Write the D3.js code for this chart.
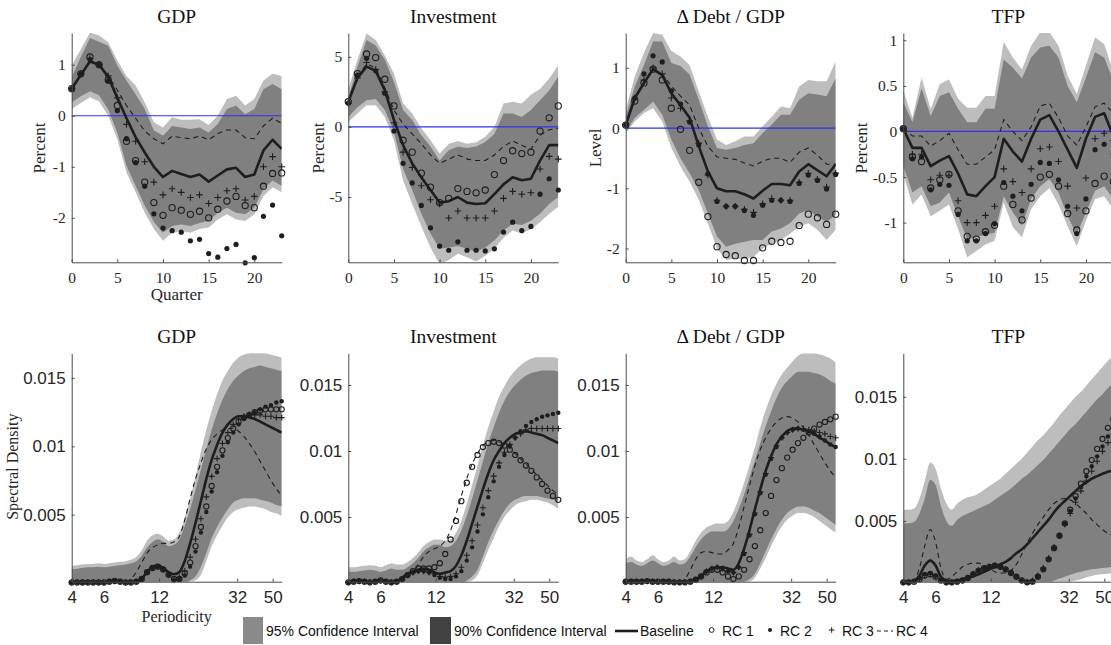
<!DOCTYPE html>
<html>
<head>
<meta charset="utf-8">
<script src="https://cdn.jsdelivr.net/npm/d3@7"></script>
<style>
  body { margin: 0; background: #fff; }
  svg { display: block; }
</style>
</head>
<body>
<svg id="chart" width="1111" height="645"></svg>
<script>
// ---- impulse responses, quarters 0..23 ----
var quarters = [0,1,2,3,4,5,6,7,8,9,10,11,12,13,14,15,16,17,18,19,20,21,22,23];

var gdpHi95 = [0.98,1.3,1.63,1.57,1.44,1.08,0.78,0.59,0.26,-0.13,-0.23,-0.03,-0.08,-0.08,-0.07,-0.18,0.0,0.33,0.39,0.2,0.33,0.69,0.82,0.78];
var gdpHi90 = [0.75,1.15,1.52,1.45,1.37,0.98,0.69,0.42,0.13,-0.29,-0.39,-0.2,-0.23,-0.26,-0.23,-0.33,-0.16,0.13,0.2,0.03,0.13,0.52,0.62,0.52];
var gdpLo90 = [0.26,0.38,0.48,0.4,0.12,-0.33,-0.98,-1.37,-1.76,-2.08,-2.29,-2.16,-2.13,-2.16,-2.1,-2.06,-1.9,-1.8,-1.9,-1.93,-1.8,-1.44,-1.27,-1.37];
var gdpLo95 = [0.13,0.25,0.36,0.28,0.0,-0.46,-1.11,-1.5,-1.9,-2.22,-2.45,-2.29,-2.26,-2.29,-2.22,-2.19,-2.03,-1.93,-2.03,-2.06,-1.93,-1.57,-1.4,-1.5];
var gdpBase = [0.53,0.8,1.06,1.0,0.76,0.35,-0.05,-0.42,-0.72,-1.0,-1.2,-1.08,-1.14,-1.2,-1.15,-1.29,-1.17,-1.05,-1.02,-1.2,-1.15,-0.68,-0.47,-0.65];
var gdpRC1 = [0.53,0.82,1.15,1.0,0.7,0.2,-0.5,-0.88,-1.3,-1.7,-1.95,-1.8,-1.85,-1.93,-1.87,-2.0,-1.83,-1.67,-1.58,-1.76,-1.8,-1.38,-1.13,-1.12];
var gdpRC2 = [0.53,0.82,1.1,1.0,0.68,0.1,-0.45,-0.92,-1.38,-1.92,-2.2,-2.25,-2.28,-2.45,-2.42,-2.7,-2.77,-2.6,-2.52,-2.88,-2.78,-1.97,-1.75,-2.35];
var gdpRC3 = [0.53,0.82,1.12,1.0,0.78,0.35,-0.17,-0.5,-0.9,-1.3,-1.55,-1.43,-1.5,-1.6,-1.55,-1.72,-1.6,-1.47,-1.43,-1.65,-1.58,-1.0,-0.8,-1.0];
var gdpRC4 = [0.53,0.82,1.08,1.0,0.78,0.5,0.2,-0.05,-0.3,-0.45,-0.55,-0.4,-0.43,-0.45,-0.4,-0.47,-0.35,-0.28,-0.28,-0.43,-0.45,-0.2,-0.05,-0.15];

var invHi95 = [2.7,4.8,6.67,6.2,5.1,3.8,1.67,0.95,-0.1,-0.95,-1.9,-1.2,-1.0,-1.2,-1.1,-0.7,0.0,1.67,1.8,1.67,2.3,2.7,3.45,4.4];
var invHi90 = [2.1,4.3,6.2,5.8,4.8,3.2,1.2,0.5,-0.6,-1.4,-2.4,-1.67,-1.4,-1.5,-1.4,-1.07,-0.5,0.95,0.95,0.7,1.2,1.9,2.6,3.6];
var invLo90 = [0.7,1.4,1.9,2.0,1.2,-0.35,-3.0,-4.5,-6.2,-7.6,-8.7,-8.6,-8.5,-8.7,-8.9,-8.6,-8.1,-7.4,-6.9,-7.0,-6.7,-6.2,-5.5,-5.0];
var invLo95 = [0.35,0.95,1.55,1.55,0.7,-0.95,-3.8,-5.5,-7.1,-8.6,-9.8,-9.5,-9.05,-9.3,-9.6,-9.2,-8.7,-7.9,-7.4,-7.6,-7.3,-6.8,-6.2,-5.7];
var invBase = [1.8,3.5,4.3,4.0,2.6,0.5,-1.3,-2.6,-3.6,-4.5,-5.4,-5.3,-5.0,-5.4,-5.5,-5.45,-4.8,-4.1,-3.6,-3.8,-3.7,-2.4,-1.3,-1.3];
var invRC1 = [1.8,3.8,5.2,4.95,3.4,1.5,-0.95,-1.8,-3.3,-4.3,-5.4,-5.1,-4.4,-4.6,-4.7,-4.5,-3.4,-2.4,-1.7,-1.9,-1.8,-0.3,0.65,1.5];
var invRC2 = [1.7,3.7,4.9,4.0,2.4,-0.3,-2.6,-4.0,-5.6,-7.2,-8.5,-8.8,-8.2,-8.8,-8.8,-8.85,-8.7,-7.5,-6.8,-7.4,-7.1,-4.8,-3.7,-4.5];
var invRC3 = [1.7,3.5,4.6,4.1,2.5,0.3,-1.8,-2.9,-4.2,-5.2,-5.5,-6.5,-6.0,-6.5,-6.5,-6.5,-6.0,-5.1,-4.6,-4.8,-4.7,-3.0,-2.1,-2.3];
var invRC4 = [1.8,3.6,4.5,4.2,2.8,1.2,0.2,-0.5,-1.2,-2.0,-2.6,-2.3,-2.0,-2.3,-2.4,-2.4,-2.0,-1.4,-1.0,-1.3,-1.6,-0.6,-0.2,-0.1];

var debtHi95 = [0.3,0.86,1.25,1.58,1.55,1.28,1.19,1.05,0.61,0.19,-0.19,-0.28,-0.22,-0.14,-0.14,0.03,0.19,0.36,0.33,0.69,0.8,0.78,0.78,1.11];
var debtHi90 = [0.19,0.69,1.05,1.44,1.44,1.08,1.03,0.89,0.47,0.03,-0.33,-0.36,-0.33,-0.28,-0.25,-0.08,0.06,0.22,0.22,0.47,0.58,0.56,0.53,0.83];
var debtLo90 = [-0.06,0.17,0.3,0.44,0.22,-0.19,-0.5,-0.75,-1.03,-1.42,-1.8,-1.97,-1.92,-1.89,-1.86,-1.86,-1.72,-1.67,-1.58,-1.42,-1.36,-1.47,-1.56,-1.44];
var debtLo95 = [-0.08,0.11,0.25,0.33,0.11,-0.33,-0.64,-0.89,-1.19,-1.58,-2.0,-2.19,-2.17,-2.17,-2.14,-2.0,-1.92,-1.86,-1.75,-1.64,-1.58,-1.69,-1.86,-1.69];
var debtBase = [0.05,0.5,0.75,0.98,0.88,0.58,0.38,0.17,-0.3,-0.72,-1.0,-1.05,-1.05,-1.1,-1.17,-1.04,-0.93,-0.93,-0.95,-0.72,-0.6,-0.7,-0.8,-0.6];
var debtRC1 = [0.05,0.45,0.75,0.98,0.8,0.33,-0.02,-0.37,-0.9,-1.47,-1.97,-2.1,-2.12,-2.2,-2.2,-1.99,-1.88,-1.9,-1.88,-1.62,-1.43,-1.49,-1.6,-1.43];
var debtRC2 = [0.05,0.5,0.9,1.2,1.1,0.62,0.4,0.1,-0.28,-0.76,-1.22,-1.3,-1.3,-1.37,-1.45,-1.28,-1.2,-1.2,-1.22,-0.92,-0.78,-0.87,-1.01,-0.77];
var debtRC3 = [0.05,0.5,0.8,1.0,0.9,0.5,0.33,0.12,-0.25,-0.78,-1.2,-1.3,-1.3,-1.35,-1.4,-1.26,-1.17,-1.2,-1.2,-0.9,-0.75,-0.85,-0.98,-0.75];
var debtRC4 = [0.05,0.5,0.77,0.98,0.9,0.7,0.53,0.38,0.0,-0.3,-0.48,-0.5,-0.52,-0.58,-0.63,-0.55,-0.5,-0.5,-0.57,-0.4,-0.33,-0.45,-0.6,-0.6];

var tfpHi95 = [0.45,0.15,0.59,0.25,0.52,0.57,0.36,0.26,0.26,0.39,0.39,0.98,0.81,0.68,0.94,1.09,1.09,0.94,0.61,0.41,0.72,1.03,0.96,0.65];
var tfpHi90 = [0.32,0.1,0.47,0.17,0.39,0.43,0.25,0.1,0.1,0.25,0.25,0.79,0.7,0.58,0.81,0.92,0.94,0.81,0.5,0.32,0.59,0.87,0.81,0.56];
var tfpLo90 = [-0.38,-0.67,-0.6,-0.82,-0.78,-0.67,-0.93,-1.18,-1.16,-1.13,-1.11,-0.71,-0.89,-1.03,-0.74,-0.6,-0.52,-0.67,-0.93,-1.13,-0.89,-0.65,-0.6,-0.74];
var tfpLo95 = [-0.47,-0.8,-0.69,-0.93,-0.87,-0.8,-1.07,-1.38,-1.31,-1.24,-1.2,-0.78,-1.05,-1.16,-0.85,-0.71,-0.62,-0.8,-1.04,-1.26,-0.98,-0.74,-0.71,-0.85];
var tfpBase = [0.03,-0.18,-0.18,-0.38,-0.32,-0.27,-0.46,-0.69,-0.71,-0.6,-0.5,-0.08,-0.22,-0.33,-0.08,0.13,0.18,0.0,-0.2,-0.4,-0.08,0.16,0.2,-0.05];
var tfpRC1 = [0.03,-0.28,-0.33,-0.62,-0.53,-0.47,-0.87,-1.15,-1.18,-1.1,-1.03,-0.6,-0.8,-0.97,-0.73,-0.5,-0.47,-0.6,-0.9,-1.08,-0.87,-0.57,-0.49,-0.55];
var tfpRC2 = [0.03,-0.3,-0.28,-0.64,-0.58,-0.59,-0.91,-1.2,-1.2,-1.12,-1.01,-0.56,-0.71,-0.87,-0.58,-0.34,-0.35,-0.53,-0.82,-1.12,-0.74,-0.2,-0.14,-0.25];
var tfpRC3 = [0.03,-0.25,-0.25,-0.53,-0.48,-0.48,-0.76,-1.0,-1.0,-0.92,-0.82,-0.41,-0.55,-0.67,-0.41,-0.19,-0.17,-0.33,-0.6,-0.84,-0.51,-0.08,-0.02,-0.1];
var tfpRC4 = [0.03,-0.05,-0.05,-0.16,-0.1,-0.02,-0.2,-0.36,-0.36,-0.28,-0.2,0.13,0.0,-0.1,0.05,0.28,0.31,0.15,-0.05,-0.15,0.05,0.27,0.31,0.2];

// ---- spectral densities (values in thousandths), by periodicity ----
var periods = [4.00,4.28,4.58,4.90,5.24,5.61,6.00,6.42,6.87,7.35,7.87,8.42,9.01,9.64,10.31,11.04,11.81,12.63,13.52,14.47,15.48,16.56,17.72,18.96,20.29,21.71,23.23,24.86,26.60,28.46,30.45,32.58,34.86,37.30,39.92,42.71,45.70,48.90,52.33,56.00];

var gdpSpecHi95 = [1.25,1.3,1.35,1.4,1.4,1.45,1.4,1.45,1.5,1.55,1.6,1.7,1.9,2.4,3.1,3.5,3.6,3.4,3.1,3.2,3.7,4.8,6.2,7.8,9.6,11.2,12.6,13.8,14.8,15.5,16.1,16.5,16.7,16.8,16.9,16.9,16.8,16.7,16.6,16.5];
var gdpSpecHi90 = [1.0,1.05,1.1,1.15,1.15,1.2,1.15,1.2,1.25,1.3,1.35,1.45,1.6,2.0,2.6,3.0,3.2,3.0,2.7,2.8,3.2,4.2,5.4,6.8,8.3,9.8,11.2,12.4,13.4,14.2,14.8,15.2,15.5,15.7,15.8,15.9,15.8,15.7,15.6,15.5];
var gdpSpecLo90 = [0,0,0,0,0,0,0,0,0,0,0,0,0,0,0,0,0,0,0,0,0,0,0.2,0.5,1.2,2.2,3.3,4.1,4.8,5.4,5.9,6.1,6.2,6.2,6.2,6.1,6.0,5.9,5.7,5.6];
var gdpSpecLo95 = [0,0,0,0,0,0,0,0,0,0,0,0,0,0,0,0,0,0,0,0,0,0,0.1,0.2,0.6,1.6,2.7,3.5,4.2,4.8,5.2,5.4,5.5,5.6,5.6,5.5,5.4,5.2,5.1,4.9];
var gdpSpecBase = [0.05,0.05,0.05,0.05,0.05,0.05,0.05,0.1,0.15,0.1,0.05,0.05,0.1,0.3,0.8,1.2,1.3,1.1,0.8,0.65,0.8,1.6,2.9,4.4,6.0,7.6,9.0,10.1,11.0,11.6,12.0,12.2,12.2,12.1,12.0,11.8,11.6,11.4,11.2,11.0];
var gdpSpecRC1 = [0.05,0.05,0.05,0.05,0.05,0.05,0.05,0.1,0.15,0.1,0.05,0.05,0.1,0.3,0.8,1.1,1.2,1.0,0.6,0.3,0.3,0.7,1.5,2.7,4.1,5.6,7.1,8.5,9.7,10.6,11.3,11.8,12.1,12.3,12.5,12.6,12.7,12.7,12.7,12.7];
var gdpSpecRC2 = [0.05,0.05,0.05,0.05,0.05,0.05,0.05,0.1,0.15,0.1,0.05,0.05,0.1,0.3,0.8,1.1,1.2,1.0,0.6,0.2,0.25,0.55,1.2,2.3,3.7,5.2,6.7,8.1,9.3,10.3,11.0,11.6,12.0,12.3,12.5,12.7,12.9,13.0,13.2,13.3];
var gdpSpecRC3 = [0.05,0.05,0.05,0.05,0.05,0.05,0.05,0.1,0.15,0.1,0.05,0.05,0.1,0.3,0.8,1.1,1.2,1.0,0.6,0.3,0.4,0.9,1.9,3.2,4.7,6.3,7.8,9.1,10.2,11.0,11.6,12.0,12.2,12.3,12.3,12.3,12.2,12.2,12.1,12.1];
var gdpSpecRC4 = [0.05,0.05,0.05,0.05,0.05,0.05,0.05,0.1,0.1,0.05,0.1,0.3,0.8,1.5,2.2,2.6,2.8,2.9,2.9,3.0,3.4,4.6,6.2,7.6,8.8,9.8,10.5,10.9,11.2,11.3,11.3,11.1,10.7,10.2,9.6,8.9,8.2,7.5,6.9,6.4];

var invSpecHi95 = [1.2,1.2,1.25,1.3,1.35,1.3,1.2,1.35,1.5,1.4,1.4,1.6,1.9,2.3,2.8,3.1,3.3,3.3,3.2,3.3,3.8,4.7,6.0,7.4,8.9,10.4,11.8,13.0,14.1,14.9,15.6,16.1,16.5,16.8,17.0,17.1,17.1,17.1,17.1,17.0];
var invSpecHi90 = [0.85,0.85,0.9,0.95,1.0,0.95,0.85,0.95,1.1,1.0,1.0,1.2,1.5,1.9,2.4,2.7,2.9,2.9,2.7,2.8,3.2,4.0,5.1,6.4,7.8,9.2,10.6,11.8,12.9,13.8,14.5,15.0,15.4,15.7,15.9,16.0,16.1,16.1,16.1,16.0];
var invSpecLo90 = [0,0,0,0,0,0,0,0,0,0,0,0,0,0,0,0,0,0,0,0,0,0,0.2,0.5,1.0,2.0,3.1,4.0,4.8,5.5,6.0,6.3,6.5,6.6,6.6,6.6,6.5,6.4,6.3,6.2];
var invSpecLo95 = [0,0,0,0,0,0,0,0,0,0,0,0,0,0,0,0,0,0,0,0,0,0,0.1,0.2,0.6,1.5,2.5,3.4,4.3,5.0,5.5,5.9,6.1,6.2,6.3,6.3,6.2,6.1,5.9,5.6];
var invSpecBase = [0.05,0.1,0.15,0.1,0.05,0.1,0.2,0.1,0.05,0.1,0.4,0.7,0.9,1.0,1.1,1.0,0.8,0.7,0.8,0.9,1.3,2.1,3.2,4.5,5.8,7.1,8.3,9.3,10.0,10.6,11.0,11.3,11.4,11.5,11.4,11.3,11.2,11.0,10.8,10.6];
var invSpecRC1 = [0.05,0.1,0.15,0.1,0.05,0.1,0.2,0.1,0.05,0.1,0.3,0.6,0.9,1.1,1.1,1.1,1.2,1.5,2.2,3.3,4.7,6.2,7.6,8.8,9.7,10.3,10.6,10.7,10.6,10.4,10.1,9.7,9.3,8.9,8.5,8.0,7.5,7.0,6.6,6.3];
var invSpecRC2 = [0.05,0.1,0.15,0.1,0.05,0.1,0.2,0.1,0.05,0.1,0.3,0.6,0.8,0.9,0.9,0.8,0.6,0.4,0.3,0.3,0.5,0.9,1.7,2.7,3.9,5.2,6.5,7.7,8.8,9.7,10.4,11.0,11.5,11.9,12.2,12.4,12.6,12.7,12.8,12.9];
var invSpecRC3 = [0.05,0.1,0.15,0.1,0.05,0.1,0.2,0.1,0.05,0.1,0.3,0.6,0.8,0.9,0.9,0.8,0.7,0.5,0.45,0.5,0.7,1.2,2.1,3.2,4.4,5.7,7.0,8.1,9.1,9.9,10.5,11.0,11.3,11.6,11.7,11.7,11.7,11.7,11.7,11.7];
var invSpecRC4 = [0.05,0.1,0.15,0.1,0.05,0.1,0.2,0.1,0.05,0.15,0.4,0.6,0.8,1.4,2.0,2.4,2.6,2.8,3.2,4.0,5.2,6.6,7.9,9.0,9.8,10.4,10.7,10.8,10.7,10.5,10.2,9.8,9.4,9.0,8.6,8.2,7.8,7.4,7.0,6.7];

var debtSpecHi95 = [1.8,2.0,1.7,1.6,1.8,2.1,1.8,1.6,1.7,2.0,1.7,1.8,2.4,3.2,3.8,4.2,4.4,4.5,4.5,4.7,5.4,6.4,7.6,8.9,10.3,11.8,13.1,14.2,15.1,15.8,16.3,16.8,17.2,17.4,17.4,17.4,17.3,17.2,17.0,16.7];
var debtSpecHi90 = [1.5,1.6,1.4,1.3,1.5,1.7,1.5,1.3,1.4,1.6,1.4,1.5,2.0,2.7,3.3,3.7,3.9,3.9,3.9,4.1,4.7,5.6,6.7,8.0,9.3,10.6,11.9,13.0,14.0,14.8,15.3,15.7,16.0,16.0,16.0,15.9,15.8,15.6,15.3,15.1];
var debtSpecLo90 = [0,0,0,0,0,0,0,0,0,0,0,0,0,0,0,0,0,0,0,0,0,0,0.1,0.3,0.7,1.5,2.4,3.3,4.1,4.8,5.3,5.6,5.8,5.8,5.7,5.5,5.3,5.0,4.7,4.4];
var debtSpecLo95 = [0,0,0,0,0,0,0,0,0,0,0,0,0,0,0,0,0,0,0,0,0,0,0,0.1,0.4,1.1,1.9,2.8,3.6,4.3,4.8,5.1,5.3,5.3,5.2,5.0,4.7,4.4,4.1,3.8];
var debtSpecBase = [0.1,0.1,0.1,0.1,0.15,0.1,0.1,0.1,0.1,0.05,0.05,0.05,0.1,0.25,0.5,0.9,1.1,1.2,1.2,1.1,1.0,1.5,2.6,4.0,5.6,7.1,8.5,9.6,10.5,11.1,11.5,11.7,11.7,11.6,11.5,11.3,11.0,10.8,10.5,10.3];
var debtSpecRC1 = [0.1,0.1,0.1,0.1,0.15,0.1,0.1,0.1,0.1,0.05,0.05,0.05,0.1,0.25,0.5,0.8,1.0,1.0,0.8,0.5,0.3,0.5,1.0,1.8,2.8,4.0,5.3,6.6,7.8,8.7,9.5,10.1,10.6,11.0,11.4,11.7,12.0,12.2,12.4,12.6];
var debtSpecRC2 = [0.1,0.1,0.1,0.1,0.15,0.1,0.1,0.1,0.1,0.05,0.05,0.05,0.1,0.25,0.5,0.9,1.1,1.2,1.1,0.9,0.8,1.2,2.2,3.6,5.2,6.8,8.2,9.4,10.3,11.0,11.4,11.6,11.7,11.6,11.5,11.3,11.1,10.8,10.5,10.3];
var debtSpecRC3 = [0.1,0.1,0.1,0.1,0.15,0.1,0.1,0.1,0.1,0.05,0.05,0.05,0.1,0.25,0.5,0.9,1.1,1.2,1.1,0.9,0.8,1.2,2.3,3.7,5.3,6.9,8.3,9.5,10.4,11.0,11.4,11.6,11.7,11.7,11.6,11.5,11.4,11.3,11.1,11.0];
var debtSpecRC4 = [0.1,0.1,0.1,0.1,0.15,0.1,0.1,0.1,0.1,0.05,0.1,0.3,1.0,1.8,2.3,2.4,2.3,2.2,2.2,2.5,3.0,4.2,5.8,7.4,8.9,10.1,11.0,11.7,12.2,12.5,12.6,12.5,12.2,11.8,11.2,10.5,9.8,9.1,8.5,8.0];

var tfpSpecHi95 = [5.9,5.9,6.0,6.8,8.2,9.7,9.2,7.6,6.4,5.9,6.4,6.7,6.9,7.0,7.2,7.5,7.8,8.1,8.4,8.8,9.2,9.6,10.0,10.5,11.0,11.5,11.9,12.4,12.9,13.5,14.0,14.5,15.0,15.4,15.9,16.4,16.9,17.4,17.9,18.3];
var tfpSpecHi90 = [4.8,4.8,4.9,5.6,6.8,8.3,7.9,6.2,5.0,4.6,5.1,5.4,5.6,5.8,6.0,6.2,6.4,6.7,7.0,7.3,7.6,8.0,8.4,8.7,9.1,9.5,9.9,10.4,10.9,11.4,11.9,12.4,12.8,13.3,13.8,14.3,14.8,15.2,15.7,16.1];
var tfpSpecLo90 = [0,0,0,0,0,0,0,0,0,0,0,0,0,0,0,0,0,0,0,0,0,0,0,0,0,0,0,0,0.2,0.35,0.5,0.65,0.8,0.9,1.0,1.1,1.15,1.2,1.25,1.3];
var tfpSpecLo95 = [0,0,0,0,0,0,0,0,0,0,0,0,0,0,0,0,0,0,0,0,0,0,0,0,0,0,0,0,0,0,0,0.1,0.2,0.3,0.45,0.55,0.65,0.7,0.75,0.8];
var tfpSpecBase = [0.05,0.05,0.1,0.6,1.4,1.8,1.4,0.5,0.2,0.15,0.2,0.3,0.4,0.55,0.7,0.9,1.1,1.3,1.5,1.7,2.0,2.4,2.7,3.1,3.6,4.1,4.6,5.1,5.7,6.2,6.6,7.0,7.4,7.8,8.1,8.4,8.6,8.8,8.95,9.1];
var tfpSpecRC1 = [0.05,0.05,0.1,0.3,0.6,0.7,0.5,0.2,0.05,0.05,0.1,0.2,0.4,0.7,1.0,1.2,1.3,1.4,1.3,1.1,0.8,0.5,0.2,0.05,0.1,0.5,1.1,1.9,2.8,3.8,4.8,5.9,7.0,8.0,9.0,9.9,10.8,11.6,12.5,13.2];
var tfpSpecRC2 = [0.05,0.05,0.15,0.4,0.7,0.8,0.6,0.25,0.05,0.05,0.1,0.2,0.4,0.7,1.0,1.2,1.3,1.4,1.3,1.1,0.8,0.5,0.2,0.05,0.1,0.5,1.1,1.9,2.8,3.8,4.8,5.8,6.8,7.7,8.6,9.4,10.2,11.0,11.8,12.5];
var tfpSpecRC3 = [0.05,0.05,0.1,0.3,0.6,0.7,0.5,0.2,0.05,0.05,0.1,0.2,0.4,0.7,1.0,1.2,1.3,1.4,1.3,1.1,0.8,0.5,0.2,0.1,0.2,0.6,1.2,2.0,2.9,3.8,4.7,5.6,6.5,7.4,8.2,9.0,9.8,10.6,11.3,12.0];
var tfpSpecRC4 = [0.05,0.05,0.2,1.2,3.0,4.3,3.3,1.2,0.3,0.5,0.9,1.3,1.5,1.6,1.6,1.4,1.2,0.9,0.8,0.8,1.0,1.5,2.3,3.2,4.0,4.7,5.3,5.9,6.4,6.7,6.8,6.7,6.4,6.0,5.6,5.1,4.7,4.3,4.0,3.8];

var titles = ['GDP', 'Investment', '\u0394 Debt / GDP', 'TFP'];
var irfLabels = ['Percent', 'Percent', 'Level', 'Percent'];
var periodTicks = [4, 6, 12, 32, 50];
var legendLabels = ['95% Confidence Interval', '90% Confidence Interval', 'Baseline', 'RC 1', 'RC 2', 'RC 3', 'RC 4'];

// ---- panels built from the arrays ----
var topPanels = [
  {yDomain: [-2.87, 1.62], yTicks: [-2, -1, 0, 1], s: [gdpLo95, gdpHi95, gdpLo90, gdpHi90, gdpBase, gdpRC1, gdpRC2, gdpRC3, gdpRC4]},
  {yDomain: [-9.66, 6.7], yTicks: [-5, 0, 5], s: [invLo95, invHi95, invLo90, invHi90, invBase, invRC1, invRC2, invRC3, invRC4]},
  {yDomain: [-2.23, 1.58], yTicks: [-2, -1, 0, 1], s: [debtLo95, debtHi95, debtLo90, debtHi90, debtBase, debtRC1, debtRC2, debtRC3, debtRC4]},
  {yDomain: [-1.435, 1.08], yTicks: [-1, -0.5, 0, 0.5, 1], s: [tfpLo95, tfpHi95, tfpLo90, tfpHi90, tfpBase, tfpRC1, tfpRC2, tfpRC3, tfpRC4]}
];
var bottomPanels = [
  {yDomain: [0.1, 16.8], s: [gdpSpecLo95, gdpSpecHi95, gdpSpecLo90, gdpSpecHi90, gdpSpecBase, gdpSpecRC1, gdpSpecRC2, gdpSpecRC3, gdpSpecRC4]},
  {yDomain: [0.1, 17.4], s: [invSpecLo95, invSpecHi95, invSpecLo90, invSpecHi90, invSpecBase, invSpecRC1, invSpecRC2, invSpecRC3, invSpecRC4]},
  {yDomain: [0.1, 17.4], s: [debtSpecLo95, debtSpecHi95, debtSpecLo90, debtSpecHi90, debtSpecBase, debtSpecRC1, debtSpecRC2, debtSpecRC3, debtSpecRC4]},
  {yDomain: [0.1, 18.5], s: [tfpSpecLo95, tfpSpecHi95, tfpSpecLo90, tfpSpecHi90, tfpSpecBase, tfpSpecRC1, tfpSpecRC2, tfpSpecRC3, tfpSpecRC4]}
];

var svg = d3.select('#chart');
var defs = svg.append('defs');
svg.append('rect').attr('width', 1111).attr('height', 645).attr('fill', '#fff');

var serif = '"Liberation Serif", "Times New Roman", serif';
var sans = '"Liberation Sans", Arial, sans-serif';
var ink = '#1e1e1e', axisColor = '#4a4a4a';
var lightFill = '#bdbdbd', darkFill = '#808080';
var plotW = 210;
var panelLeft = [71.7, 348.3, 625.7, 903.3];

var rows = [
  {top: 33, bottom: 262.3, xs: quarters, titleY: 23, tickFont: serif, tickSize: 15.5, curve: d3.curveLinear,
   marks: {r: 3.1, dot: 2.6, plus: 3.3}, zero: true, xPad: 10,
   x: function(l) { return d3.scaleLinear().domain([0, 23]).range([l, l + plotW]); },
   xTicks: [0, 5, 10, 15, 20], fmt: function(d) { return String(d); }, panels: topPanels},
  {top: 353.3, bottom: 581.7, xs: periods, titleY: 343, tickFont: sans, tickSize: 17, curve: d3.curveMonotoneX,
   marks: {r: 2.6, dot: 2.2, plus: 3}, zero: false, xPad: 9,
   x: function(l) { return d3.scaleLog().domain([4, 56]).range([l, l + plotW]); },
   xTicks: periodTicks, fmt: function(d) { return String(d / 1000); }, panels: bottomPanels}
];

function plusPath(a) { return 'M' + (-a) + ',0H' + a + 'M0,' + (-a) + 'V' + a; }

rows.forEach(function(row, r) {
  row.panels.forEach(function(p, i) {
    var left = panelLeft[i];
    var x = row.x(left);
    var y = d3.scaleLinear().domain(p.yDomain).range([row.bottom, row.top]);
    var xs = row.xs;
    var g = svg.append('g');
    var clipId = 'clip' + r + '_' + i;
    defs.append('clipPath').attr('id', clipId).append('rect')
      .attr('x', left).attr('y', row.top).attr('width', plotW).attr('height', row.bottom - row.top);
    var inner = g.append('g').attr('clip-path', 'url(#' + clipId + ')');

    function band(lo, hi) {
      return d3.area().curve(row.curve)
        .x(function(d, k) { return x(xs[k]); })
        .y0(function(d, k) { return y(lo[k]); })
        .y1(function(d, k) { return y(hi[k]); })(lo);
    }
    inner.append('path').attr('d', band(p.s[0], p.s[1])).attr('fill', lightFill);
    inner.append('path').attr('d', band(p.s[2], p.s[3])).attr('fill', darkFill);

    if (row.zero) {
      inner.append('line').attr('x1', left).attr('x2', left + plotW)
        .attr('y1', y(0)).attr('y2', y(0)).attr('stroke', '#3030f0').attr('stroke-width', 1.2);
    }

    var line = d3.line().curve(row.curve)
      .x(function(d, k) { return x(xs[k]); })
      .y(function(d) { return y(d); });
    inner.append('path').attr('d', line(p.s[4])).attr('fill', 'none')
      .attr('stroke', ink).attr('stroke-width', 2.6).attr('stroke-linejoin', 'round');

    // RC 1: open circles
    g.append('g').selectAll('circle').data(p.s[5]).join('circle')
      .attr('cx', function(d, k) { return x(xs[k]); }).attr('cy', function(d) { return y(d); })
      .attr('r', row.marks.r).attr('fill', 'none').attr('stroke', ink).attr('stroke-width', 1.1);
    // RC 2: filled dots
    g.append('g').selectAll('circle').data(p.s[6]).join('circle')
      .attr('cx', function(d, k) { return x(xs[k]); }).attr('cy', function(d) { return y(d); })
      .attr('r', row.marks.dot).attr('fill', ink);
    // RC 3: plus signs
    g.append('g').selectAll('path').data(p.s[7]).join('path')
      .attr('transform', function(d, k) { return 'translate(' + x(xs[k]) + ',' + y(d) + ')'; })
      .attr('d', plusPath(row.marks.plus)).attr('stroke', ink).attr('stroke-width', 1.1);
    // RC 4: dashed line
    inner.append('path').attr('d', line(p.s[8])).attr('fill', 'none')
      .attr('stroke', ink).attr('stroke-width', 1.1).attr('stroke-dasharray', '5,4');

    // axes
    var xa = g.append('g').attr('transform', 'translate(0,' + row.bottom + ')')
      .call(d3.axisBottom(x).tickValues(row.xTicks).tickFormat(function(d) { return String(d); })
        .tickSizeInner(-3).tickSizeOuter(0).tickPadding(row.xPad));
    var yTicks = r === 0 ? p.yTicks : [5, 10, 15];
    var ya = g.append('g').attr('transform', 'translate(' + left + ',0)')
      .call(d3.axisLeft(y).tickValues(yTicks).tickFormat(row.fmt)
        .tickSizeInner(-3).tickSizeOuter(0).tickPadding(6));
    [xa, ya].forEach(function(a) {
      a.attr('font-family', row.tickFont).attr('font-size', row.tickSize);
      a.selectAll('.domain, .tick line').attr('stroke', axisColor);
      a.selectAll('text').attr('fill', '#262626');
    });

    svg.append('text').attr('x', left + plotW / 2).attr('y', row.titleY)
      .attr('text-anchor', 'middle').attr('font-family', serif).attr('font-size', 19.5)
      .attr('fill', '#111').text(titles[i]);
  });
});

// axis labels
var yLabelX = [39, 317.7, 595, 861];
irfLabels.forEach(function(t, i) {
  svg.append('text').attr('transform', 'translate(' + yLabelX[i] + ',148) rotate(-90)')
    .attr('text-anchor', 'middle').attr('dy', '0.35em').attr('font-family', serif)
    .attr('font-size', 17).attr('fill', '#262626').text(t);
});
svg.append('text').attr('transform', 'translate(12,466.7) rotate(-90)')
  .attr('text-anchor', 'middle').attr('dy', '0.35em').attr('font-family', serif)
  .attr('font-size', 16).attr('fill', '#262626').text('Spectral Density');
svg.append('text').attr('x', 176.7).attr('y', 300).attr('text-anchor', 'middle')
  .attr('font-family', serif).attr('font-size', 17).attr('fill', '#262626').text('Quarter');
svg.append('text').attr('x', 176.7).attr('y', 622).attr('text-anchor', 'middle')
  .attr('font-family', serif).attr('font-size', 16).attr('fill', '#262626').text('Periodicity');

// legend
var leg = svg.append('g').attr('font-family', sans).attr('font-size', 14).attr('fill', '#111');
var ly = 631;
leg.append('rect').attr('x', 243).attr('y', 617).attr('width', 20).attr('height', 27).attr('fill', '#8a8a8a');
leg.append('text').attr('x', 266).attr('y', ly + 5).text(legendLabels[0]);
leg.append('rect').attr('x', 430).attr('y', 617).attr('width', 21).attr('height', 27).attr('fill', '#414141');
leg.append('text').attr('x', 454).attr('y', ly + 5).text(legendLabels[1]);
leg.append('line').attr('x1', 615).attr('x2', 638).attr('y1', ly).attr('y2', ly)
  .attr('stroke', ink).attr('stroke-width', 2.6);
leg.append('text').attr('x', 640).attr('y', ly + 5).text(legendLabels[2]);
leg.append('circle').attr('cx', 711.7).attr('cy', ly - 1).attr('r', 2.4).attr('fill', 'none')
  .attr('stroke', ink).attr('stroke-width', 1);
leg.append('text').attr('x', 722).attr('y', ly + 5).text(legendLabels[3]);
leg.append('circle').attr('cx', 770).attr('cy', ly - 1).attr('r', 2).attr('fill', ink);
leg.append('text').attr('x', 780).attr('y', ly + 5).text(legendLabels[4]);
leg.append('path').attr('transform', 'translate(831.7,' + (ly - 1) + ')').attr('d', plusPath(2.8))
  .attr('stroke', ink).attr('stroke-width', 1);
leg.append('text').attr('x', 842).attr('y', ly + 5).text(legendLabels[5]);
leg.append('line').attr('x1', 877).attr('x2', 893).attr('y1', ly).attr('y2', ly)
  .attr('stroke', ink).attr('stroke-width', 1.1).attr('stroke-dasharray', '4,3');
leg.append('text').attr('x', 896).attr('y', ly + 5).text(legendLabels[6]);
</script>
</body>
</html>
